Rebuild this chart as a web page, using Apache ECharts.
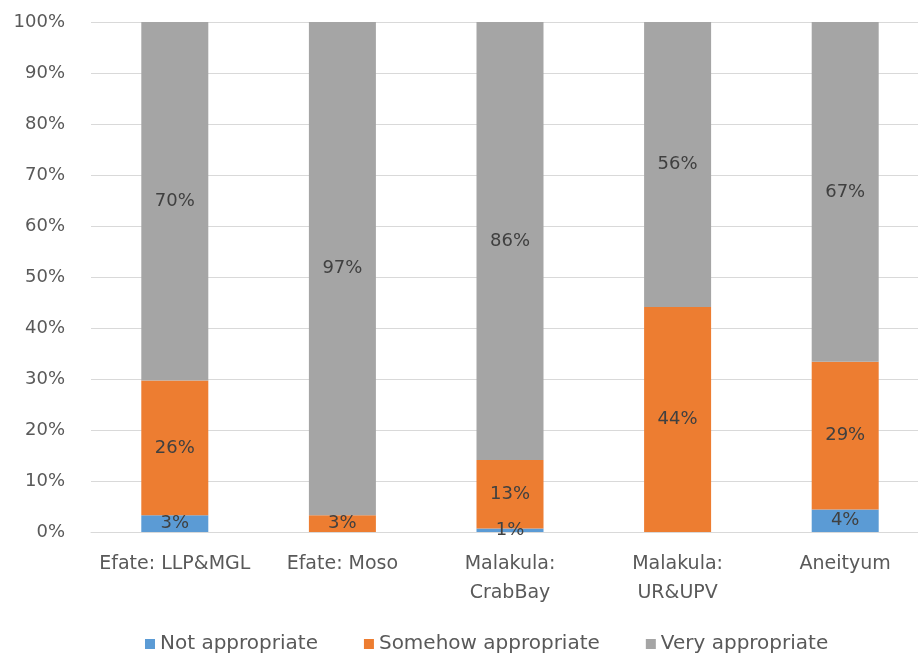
<!DOCTYPE html>
<html>
<head>
<meta charset="utf-8">
<script src="https://cdn.jsdelivr.net/npm/echarts@6/dist/echarts.min.js"></script>
<style>
  html, body { margin: 0; padding: 0; background: #fff; }
  #chart { width: 918px; height: 657px; }
</style>
</head>
<body>
<div id="chart"></div>
<script>
// Sites surveyed
const categories = ['Efate: LLP&MGL', 'Efate: Moso', 'Malakula:\nCrabBay', 'Malakula:\nUR&UPV', 'Aneityum'];
// Share of responses (%) per rating
const notAppropriate = [3.3, 0, 0.7, 0, 4.4];
const somehowAppropriate = [26.4, 3.3, 13.4, 44.1, 29.0];
const veryAppropriate = [70.3, 96.7, 85.9, 55.9, 66.6];
const seriesNames = ['Not appropriate', 'Somehow appropriate', 'Very appropriate'];
const yTicks = [0, 10, 20, 30, 40, 50, 60, 70, 80, 90, 100];

const FONT = 'DejaVu Sans';
const chart = echarts.init(document.getElementById('chart'), null, { renderer: 'canvas' });

const labelCfg = {
  show: true,
  position: 'inside',
  color: '#404040',
  fontFamily: FONT,
  fontSize: 18,
  formatter: p => (p.value > 0 ? Math.round(p.value) + '%' : '')
};

function makeSeries(name, data, color) {
  return {
    name: name,
    type: 'bar',
    stack: 'total',
    barWidth: 67,
    data: data,
    itemStyle: { color: color },
    label: labelCfg,
    emphasis: { disabled: true }
  };
}

chart.setOption({
  animation: false,
  backgroundColor: '#ffffff',
  textStyle: { fontFamily: FONT },
  grid: {
    left: 91, top: 22, width: 838, bottom: 125,
    containLabel: false,
    outerBoundsMode: 'none'
  },
  legend: {
    data: seriesNames,
    top: 629,
    left: 140,
    icon: 'rect',
    itemWidth: 10,
    itemHeight: 10,
    itemGap: 46,
    textStyle: { color: '#595959', fontFamily: FONT, fontSize: 20 }
  },
  xAxis: {
    type: 'category',
    data: categories,
    axisLine: { show: true, lineStyle: { color: '#d9d9d9', width: 1 } },
    axisTick: { show: false },
    axisLabel: {
      color: '#595959',
      fontFamily: FONT,
      fontSize: 19,
      lineHeight: 29,
      margin: 18,
      interval: 0
    }
  },
  yAxis: {
    type: 'value',
    min: yTicks[0],
    max: yTicks[yTicks.length - 1],
    interval: yTicks[1] - yTicks[0],
    axisLine: { show: false },
    axisTick: { show: false },
    splitLine: { lineStyle: { color: '#d9d9d9', width: 1 } },
    axisLabel: {
      color: '#595959',
      fontFamily: FONT,
      fontSize: 18,
      margin: 26,
      formatter: v => v + '%'
    }
  },
  series: [
    makeSeries(seriesNames[0], notAppropriate, '#5B9BD5'),
    makeSeries(seriesNames[1], somehowAppropriate, '#ED7D31'),
    makeSeries(seriesNames[2], veryAppropriate, '#A5A5A5')
  ]
});
</script>
</body>
</html>
